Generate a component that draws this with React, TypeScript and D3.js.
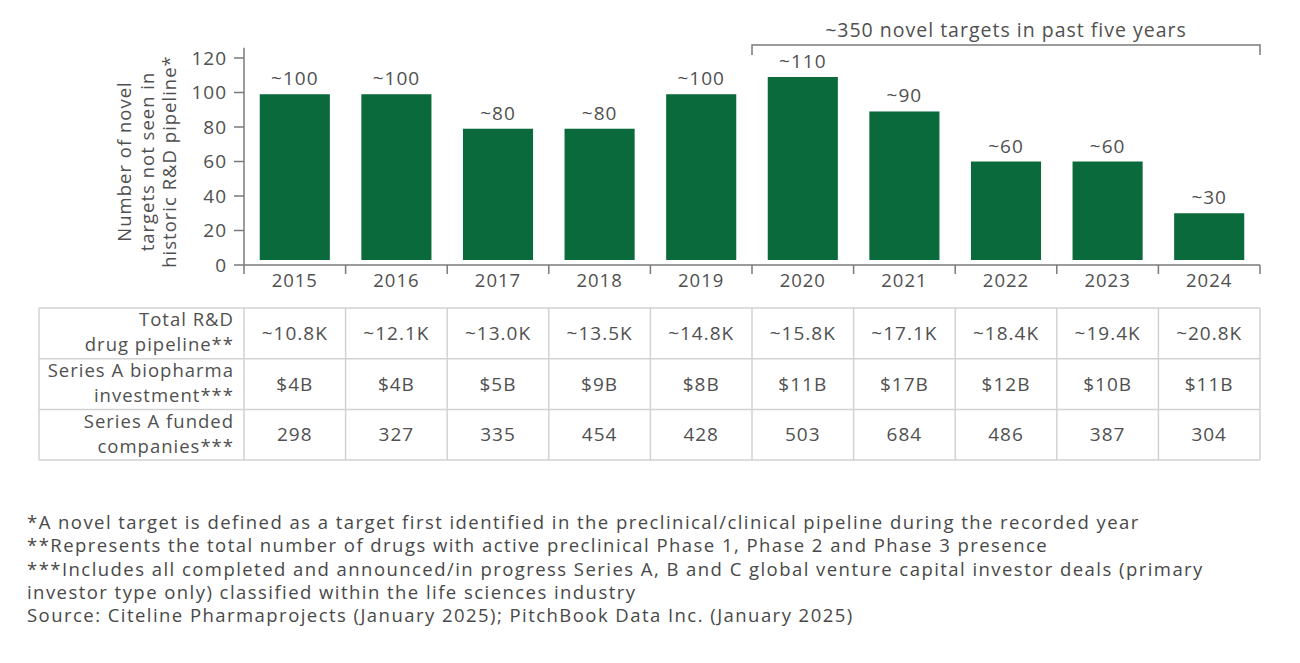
import * as d3 from 'd3';

const years = ['2015', '2016', '2017', '2018', '2019', '2020', '2021', '2022', '2023', '2024'];
const novelTargets = [99, 99, 79, 79, 99, 109, 89, 60, 60, 30];
const barLabels = ['~100', '~100', '~80', '~80', '~100', '~110', '~90', '~60', '~60', '~30'];
const yTicks = [0, 20, 40, 60, 80, 100, 120];
const yTitle = ['Number of novel', 'targets not seen in', 'historic R&D pipeline*'];

const bracketLabel = '~350 novel targets in past five years';
const bracketYears = ['2020', '2024'];

const rowHeaders = [
  ['Total R&D', 'drug pipeline**'],
  ['Series A biopharma', 'investment***'],
  ['Series A funded', 'companies***'],
];
const pipeline = ['~10.8K', '~12.1K', '~13.0K', '~13.5K', '~14.8K', '~15.8K', '~17.1K', '~18.4K', '~19.4K', '~20.8K'];
const investment = ['$4B', '$4B', '$5B', '$9B', '$8B', '$11B', '$17B', '$12B', '$10B', '$11B'];
const fundedCompanies = ['298', '327', '335', '454', '428', '503', '684', '486', '387', '304'];
const tableRows = [pipeline, investment, fundedCompanies];

const footnotes = [
  '*A novel target is defined as a target first identified in the preclinical/clinical pipeline during the recorded year',
  '**Represents the total number of drugs with active preclinical Phase 1, Phase 2 and Phase 3 presence',
  '***Includes all completed and announced/in progress Series A, B and C global venture capital investor deals (primary',
  'investor type only) classified within the life sciences industry',
  'Source: Citeline Pharmaprojects (January 2025); PitchBook Data Inc. (January 2025)',
];

const W = 1300;
const H = 663;
const FONT = '"Open Sans", "Noto Sans", sans-serif';
const GREEN = '#0b6a3b';
const TEXT = '#505050';
const AXIS = '#7a7a7a';
const GRID = '#d2d2d2';

export default function App() {
  const x = d3.scaleBand<string>().domain(years).range([244, 1260]).paddingInner(0.31).paddingOuter(0.155);
  const y = d3.scaleLinear().domain([0, 120]).range([265, 58]);
  const gap = (x.step() - x.bandwidth()) / 2;
  const edge = (yr: string) => (x(yr) as number) - gap;
  const edges = [...years.map(edge), x.range()[1]];

  const tableTop = 308;
  const rowH = 50.7;
  const tableLeft = 39;

  return (
    <div style={{ position: 'fixed', left: 0, top: 0 }}>
      <svg
        width={W}
        height={H}
        style={{ display: 'block', background: '#fff', letterSpacing: '1px' }}
        fontFamily={FONT}
      >
        {/* bars */}
        {years.map((yr, i) => (
          <g key={yr}>
            <rect
              x={x(yr)}
              y={y(novelTargets[i])}
              width={x.bandwidth()}
              height={y(0) - 5 - y(novelTargets[i])}
              fill={GREEN}
            />
            <text
              x={(x(yr) as number) + x.bandwidth() / 2}
              y={y(novelTargets[i]) - 9}
              textAnchor="middle"
              fontSize={19}
              fill={TEXT}
            >
              {barLabels[i]}
            </text>
            <text
              x={(x(yr) as number) + x.bandwidth() / 2}
              y={y(0) + 22}
              textAnchor="middle"
              fontSize={18.5}
              fill={TEXT}
            >
              {yr}
            </text>
          </g>
        ))}

        {/* y axis */}
        <line x1={244} x2={244} y1={y(126)} y2={y(0)} stroke={AXIS} strokeWidth={1.5} />
        {yTicks.map((t) => (
          <g key={t}>
            <line x1={234} x2={244} y1={y(t)} y2={y(t)} stroke={AXIS} strokeWidth={1.5} />
            <text x={227} y={y(t)} dy="0.35em" textAnchor="end" fontSize={19} fill={TEXT}>
              {t}
            </text>
          </g>
        ))}
        <text transform={`translate(125,${y(60)}) rotate(-90)`} textAnchor="middle" fontSize={18.5} fill={TEXT}>
          {yTitle.map((line, i) => (
            <tspan key={line} x={0} dy={i === 0 ? '0.35em' : 22.5}>
              {line}
            </tspan>
          ))}
        </text>

        {/* x axis */}
        <line x1={x.range()[0]} x2={x.range()[1]} y1={y(0)} y2={y(0)} stroke={AXIS} strokeWidth={1.5} />
        {edges.map((ex, i) => (
          <line key={i} x1={ex} x2={ex} y1={y(0)} y2={y(0) + 9} stroke={AXIS} strokeWidth={1.5} />
        ))}

        {/* bracket */}
        {(() => {
          const bx0 = edge(bracketYears[0]);
          const bx1 = (x(bracketYears[1]) as number) + x.bandwidth() + gap;
          const by = 45;
          return (
            <g>
              <path d={`M${bx0},${by + 10}V${by}H${bx1}V${by + 10}`} fill="none" stroke={AXIS} strokeWidth={1.5} />
              <text x={(bx0 + bx1) / 2} y={by - 8} textAnchor="middle" fontSize={19.5} fill={TEXT}>
                {bracketLabel}
              </text>
            </g>
          );
        })()}

        {/* table */}
        <g>
          {tableRows.map((row, r) => {
            const top = tableTop + r * rowH;
            return (
              <g key={r}>
                <text x={234} y={top + 12} dy="0.35em" textAnchor="end" fontSize={18.5} fill={TEXT}>
                  {rowHeaders[r][0]}
                </text>
                <text x={234} y={top + 37} dy="0.35em" textAnchor="end" fontSize={18.5} fill={TEXT}>
                  {rowHeaders[r][1]}
                </text>
                {row.map((v, i) => (
                  <text
                    key={i}
                    x={(x(years[i]) as number) + x.bandwidth() / 2}
                    y={top + rowH / 2}
                    dy="0.35em"
                    textAnchor="middle"
                    fontSize={19}
                    fill={TEXT}
                  >
                    {v}
                  </text>
                ))}
              </g>
            );
          })}
          {[0, 1, 2, 3].map((r) => (
            <line
              key={`h${r}`}
              x1={tableLeft}
              x2={x.range()[1]}
              y1={tableTop + r * rowH}
              y2={tableTop + r * rowH}
              stroke={GRID}
              strokeWidth={1.5}
            />
          ))}
          {[tableLeft, ...edges].map((ex, i) => (
            <line
              key={`v${i}`}
              x1={ex}
              x2={ex}
              y1={tableTop}
              y2={tableTop + 3 * rowH}
              stroke={GRID}
              strokeWidth={1.5}
            />
          ))}
        </g>

        {/* footnotes */}
        {footnotes.map((f, i) => (
          <text key={i} x={27} y={529 + i * 23.3} fontSize={18.5} letterSpacing="1.45px" fill="#484848">
            {f}
          </text>
        ))}
      </svg>
    </div>
  );
}
